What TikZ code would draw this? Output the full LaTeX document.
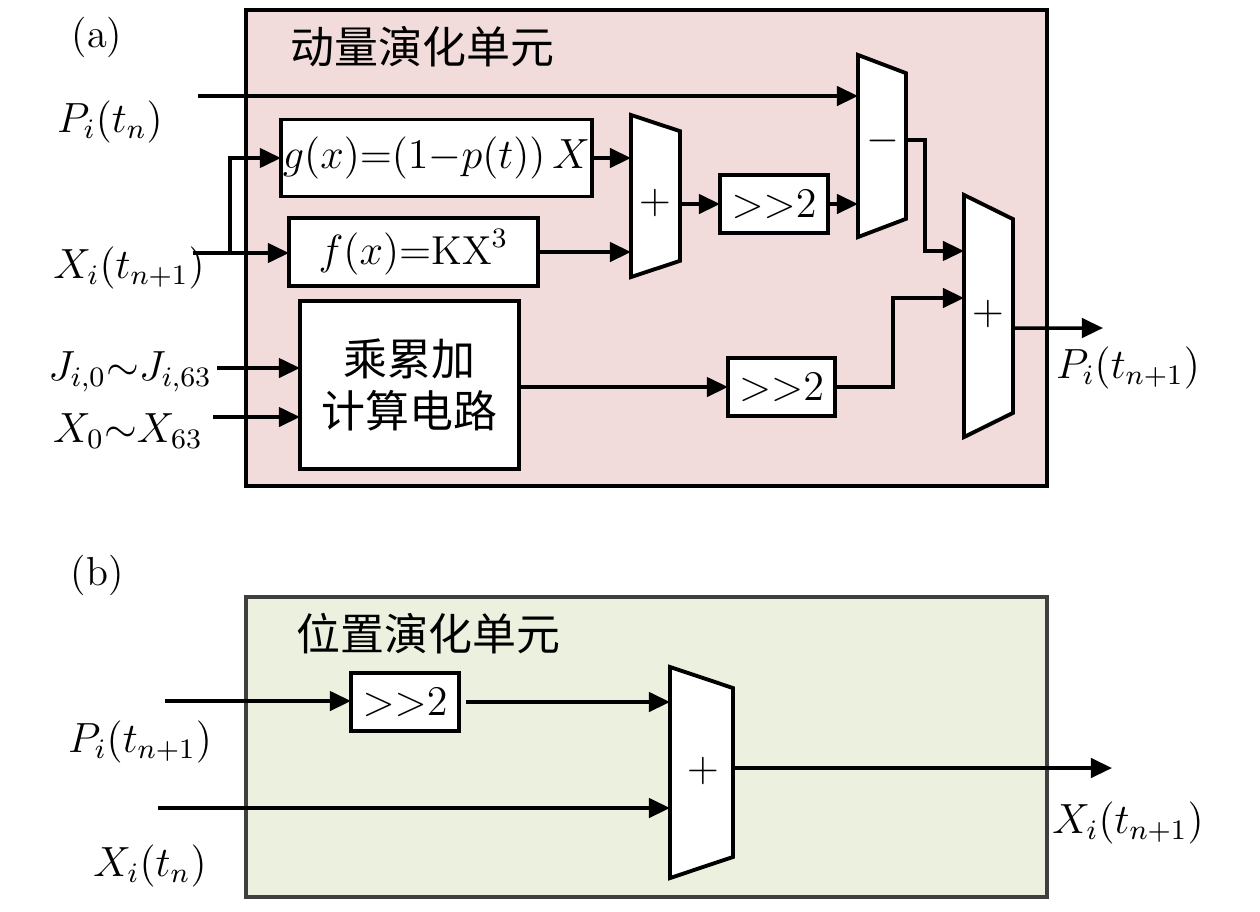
\documentclass[tikz,border=0pt]{standalone}
\usepackage{fontspec}
\newfontfamily\cjk{Noto Sans CJK SC}
\usetikzlibrary{arrows.meta,calc}
\definecolor{momfill}{HTML}{F2DCDB}
\definecolor{posfill}{HTML}{EBF1DE}
\definecolor{posline}{HTML}{3F3F3F}
% trapezoid of an adder, drawn from the anchors of its node
\newcommand{\muxpath}[1]{%
  \filldraw[fill=white, line width=1.1pt]
    (#1.north west) -- ($(#1.north east)!0.1!(#1.south east)$)
    -- ($(#1.south east)!0.1!(#1.north east)$) -- (#1.south west) -- cycle;}

\begin{document}
\begin{tikzpicture}[
        x=0.01cm, y=-0.01cm,
        every node/.style={font=\fontsize{11.5}{14}\selectfont},
        panel/.style={rectangle, draw, line width=1.2pt, minimum width=8.01cm, inner sep=0pt, outer sep=0pt},
        block/.style={rectangle, draw, fill=white, line width=1.1pt, inner sep=0pt, outer sep=0pt},
        mux/.style={rectangle, inner sep=0pt, outer sep=0pt},
        zh/.style={font=\fontsize{12.5}{15}\cjk},
        arr/.style={line width=1pt, -{Triangle[length=6pt,width=5.5pt]}}
    ]
    \useasboundingbox (0,0) rectangle (1260,911);

    % Panel (a)
    \node[panel, fill=momfill, minimum height=4.76cm] (mom) at (646.5,248) {};
    \node (taga) at (97,37) {(a)};
    \node[zh, anchor=west, inner sep=0pt] (mtitle) at (290,47) {动量演化单元};

    % g(x) and f(x)
    \node[block, minimum width=3.11cm, minimum height=0.77cm] (gfun) at (436.5,158) {$g(x){=}(1{-}p(t))\,X$};
    \node[block, minimum width=2.49cm, minimum height=0.68cm] (ffun) at (413.5,252) {$f(x){=}\mathrm{KX}^3$};

    % Shifters
    \node[block, minimum width=1.08cm, minimum height=0.58cm] (sh1) at (774,204) {${>}{>}2$};
    \node[block, minimum width=1.07cm, minimum height=0.58cm] (sh2) at (781.5,387) {${>}{>}2$};

    % Multiply-accumulate
    \node[block, zh, align=center, minimum width=2.19cm, minimum height=1.68cm] (mac) at (409.5,385) {乘累加\\计算电路};

    % Adders
    \node[mux, minimum width=0.49cm, minimum height=1.62cm] (add1) at (655.5,196) {};
    \muxpath{add1}
    \node (add1s) at (655,203) {$+$};
    \node[mux, minimum width=0.48cm, minimum height=1.82cm] (sub) at (882,146) {};
    \muxpath{sub}
    \node (subs) at (883,141) {$-$};
    \node[mux, minimum width=0.49cm, minimum height=2.42cm] (addp) at (988.5,316) {};
    \muxpath{addp}
    \node (addps) at (988,314) {$+$};

    % Inputs and output
    \node (pinl) at (110,122) {$P_i(t_n)$};
    \coordinate (pin) at (198,96);
    \node (xinl) at (129,268) {$X_i(t_{n+1})$};
    \coordinate (xin) at (193,253);
    \coordinate (xbr) at (230,253);
    \node (jl) at (130,372) {$J_{i,0}{\sim}J_{i,63}$};
    \coordinate (jin) at (217,368);
    \node (xsl) at (128,431) {$X_0{\sim}X_{63}$};
    \coordinate (xsin) at (213,417);
    \node (poutl) at (1128,368) {$P_i(t_{n+1})$};
    \coordinate (pout) at (1103,328);

    % Connections
    \draw[arr] (pin) -- (pin -| sub.west);
    \draw[arr] (xin) -- (xin -| ffun.west);
    \draw[arr] (xbr) |- (gfun.west);
    \draw[arr] (gfun.east) -- (gfun -| add1.west);
    \draw[arr] (ffun.east) -- (ffun -| add1.west);
    \draw[arr] (add1.east |- sh1) -- (sh1.west);
    \draw[arr] (sh1.east) -- (sh1 -| sub.west);
    \draw[arr] ([yshift=0.06cm]sub.east) -- ++(19,0) |- ([yshift=0.65cm]addp.west);
    \draw[arr] (jin) -- (jin -| mac.west);
    \draw[arr] (xsin) -- (xsin -| mac.west);
    \draw[arr] (mac.east |- sh2) -- (sh2.west);
    \draw[arr] (sh2.east) -- ++(58,0) |- ([yshift=0.18cm]addp.west);
    \draw[arr] ([yshift=-0.12cm]addp.east) -- (pout);

    % Panel (b)
    \node[panel, draw=posline, fill=posfill, minimum height=3.00cm] (pos) at (646.5,747) {};
    \node (tagb) at (97,575) {(b)};
    \node[zh, anchor=west, inner sep=0pt] (ptitle) at (296,634) {位置演化单元};
    \node[block, minimum width=1.08cm, minimum height=0.58cm] (sh3) at (405,702) {${>}{>}2$};
    \node[mux, minimum width=0.63cm, minimum height=2.11cm] (addx) at (701.5,772.5) {};
    \muxpath{addx}
    \node (addxs) at (703,771) {$+$};
    \node (pbl) at (140,742) {$P_i(t_{n+1})$};
    \coordinate (pbin) at (165,701);
    \node (xbl) at (150,866) {$X_i(t_n)$};
    \coordinate (xbin) at (158,808);
    \node (xoutl) at (1128,823) {$X_i(t_{n+1})$};
    \coordinate (xout) at (1112,768);

    \draw[arr] (pbin) -- (pbin -| sh3.west);
    \draw[arr, shorten <=2pt] (sh3.east) -- (sh3 -| addx.west);
    \draw[arr] (xbin) -- (xbin -| addx.west);
    \draw[arr] (addx.east |- xout) -- (xout);

\end{tikzpicture}
\end{document}
